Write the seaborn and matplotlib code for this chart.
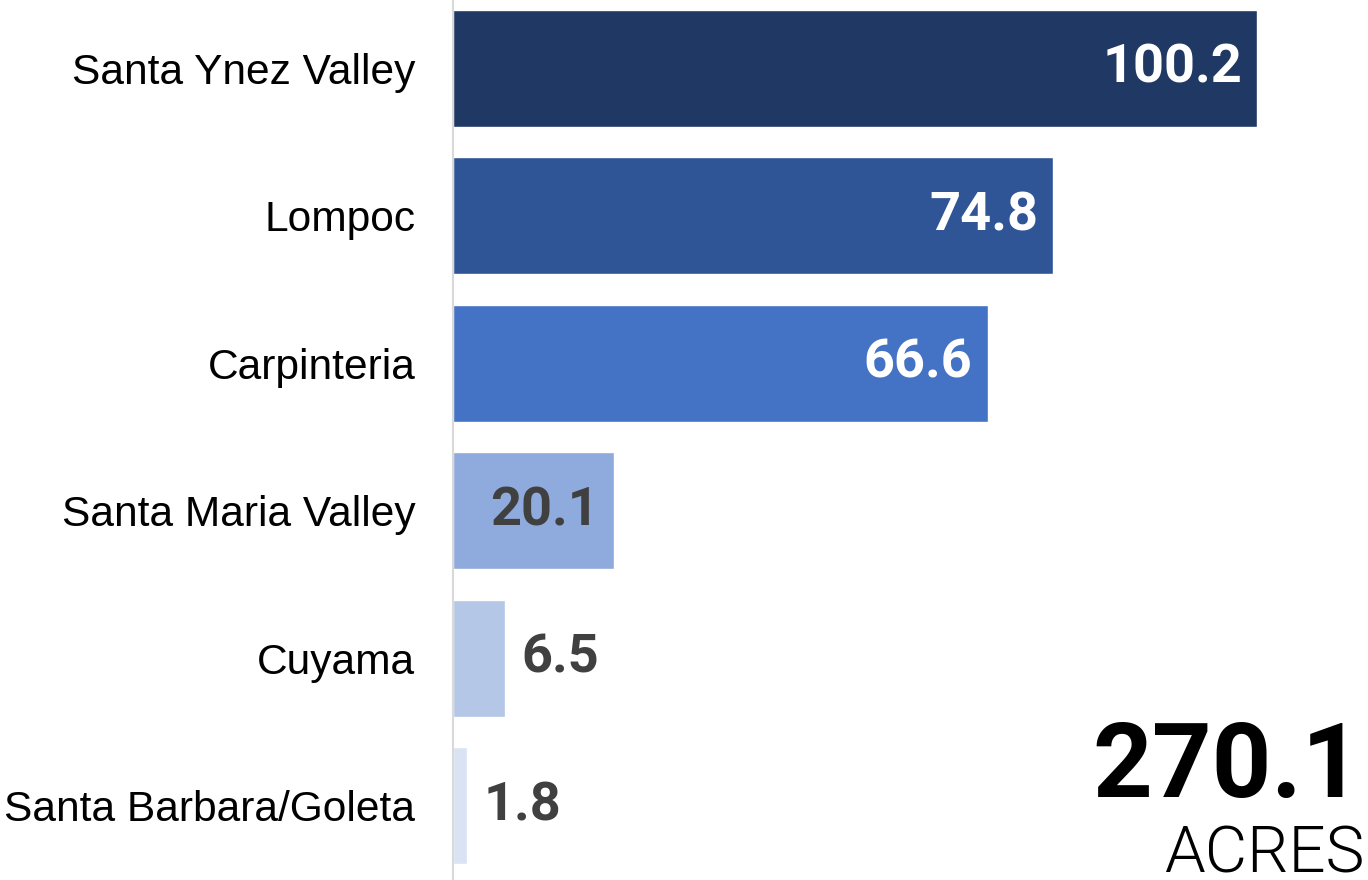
import matplotlib
matplotlib.use("Agg")
import matplotlib.pyplot as plt
import seaborn as sns
import pandas as pd

regions = ["Santa Ynez Valley", "Lompoc", "Carpinteria", "Santa Maria Valley", "Cuyama", "Santa Barbara/Goleta"]
acres = [100.2, 74.8, 66.6, 20.1, 6.5, 1.8]
bar_colors = ["#203864", "#2F5597", "#4472C4", "#8FAADC", "#B4C7E7", "#DAE3F3"]
label_inside = [True, True, True, True, False, False]
label_colors = ["white", "white", "white", "#404040", "#404040", "#404040"]
total = "270.1"
unit = "ACRES"

df = pd.DataFrame({"region": regions, "acres": acres})

sns.set_style("white")
fig = plt.figure(figsize=(13.68, 8.8), dpi=100)
ax = fig.add_axes([453 / 1368, 0, 915 / 1368, 1])

sns.barplot(data=df, x="acres", y="region", hue="region", palette=bar_colors,
            width=0.793, legend=False, ax=ax, saturation=1)

ax.set_xlim(0, 114)
ax.set_ylim(5.502, -0.464)
ax.set_xlabel("")
ax.set_ylabel("")
ax.set_xticks([])
for s in ["top", "right", "bottom"]:
    ax.spines[s].set_visible(False)
ax.spines["left"].set_color("#D9D9D9")
ax.spines["left"].set_linewidth(1.5)
ax.tick_params(axis="y", length=0, pad=27)
for t in ax.get_yticklabels():
    t.set_fontfamily("Liberation Sans")
    t.set_fontsize(30.6)
    t.set_color("black")

for i, v in enumerate(acres):
    if label_inside[i]:
        ax.annotate(f"{v}", (v, i), xytext=(-15, 0), textcoords="offset pixels",
                    ha="right", va="center", color=label_colors[i],
                    fontsize=39, fontweight="bold", family="Roboto")
    else:
        ax.annotate(f"{v}", (v, i), xytext=(16, 0), textcoords="offset pixels",
                    ha="left", va="center", color=label_colors[i],
                    fontsize=39, fontweight="bold", family="Roboto")

fig.text(1362 / 1368, 1 - 797 / 880, total, ha="right", va="baseline",
         fontsize=75, fontweight="bold", family="Roboto", color="black")
fig.text(1364 / 1368, 1 - 872 / 880, unit, ha="right", va="baseline",
         fontsize=47, fontweight=300, family="Roboto", color="black")

fig.savefig("out.png", dpi=100)
